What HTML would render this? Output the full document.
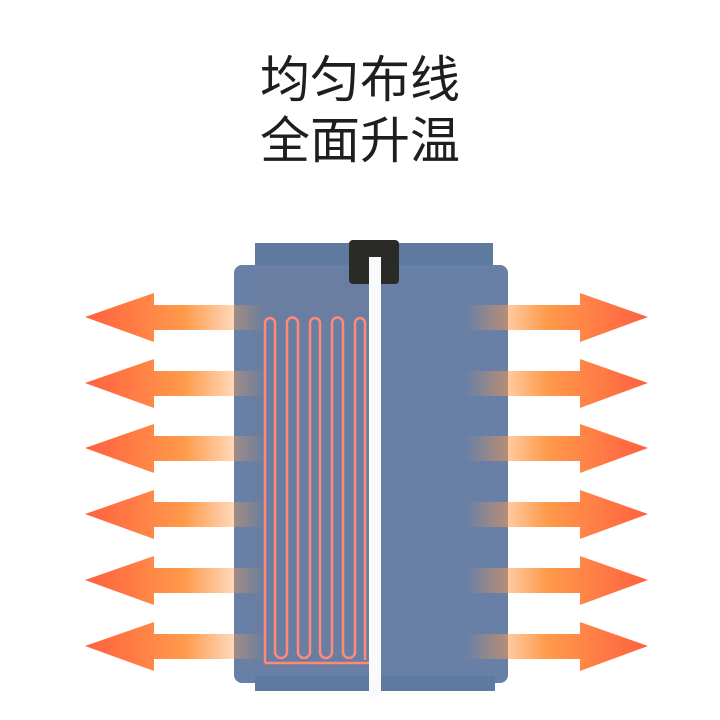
<!DOCTYPE html>
<html><head><meta charset="utf-8"><style>
html,body{margin:0;padding:0;background:#fff;width:720px;height:720px;overflow:hidden}
.t{position:absolute;left:0;width:720px;text-align:center;font-family:"Liberation Sans","Noto Sans CJK SC",sans-serif;font-size:50px;color:#1e1e1e;line-height:60px}
</style></head><body>
<div class="t" style="top:50px">均匀布线</div>
<div class="t" style="top:111px">全面升温</div>
<svg width="720" height="720" style="position:absolute;left:0;top:0">
<defs>
<linearGradient id="la" x1="85" x2="265" gradientUnits="userSpaceOnUse">
<stop offset="0" stop-color="#ff6040"/><stop offset="0.55" stop-color="#ff9a4a"/><stop offset="1" stop-color="#ff9a4a" stop-opacity="0"/></linearGradient>
<linearGradient id="ra" x1="648" x2="465" gradientUnits="userSpaceOnUse">
<stop offset="0" stop-color="#ff6040"/><stop offset="0.55" stop-color="#ff9a4a"/><stop offset="1" stop-color="#ff9a4a" stop-opacity="0"/></linearGradient>
</defs>
<rect x="255" y="243" width="238" height="40" fill="#5f7aa0"/>
<rect x="234" y="265" width="274" height="418" rx="8" fill="#6880a6"/>
<rect x="255" y="676" width="240" height="15" fill="#5f7aa0"/>
<rect x="250" y="270" width="120" height="400" fill="#6a7e9e" opacity="0.7"/>
<path d="M265,663 L265,323 A5,5 0 0 1 275,323 L275,652 A6,6 0 0 0 287,652 L287,323 A5.5,5.5 0 0 1 298,323 L298,652 A6,6 0 0 0 310,652 L310,323 A5,5 0 0 1 320,323 L320,652 A6,6 0 0 0 332,652 L332,323 A5.5,5.5 0 0 1 343,323 L343,652 A6,6 0 0 0 355,652 L355,323 A5,5 0 0 1 365,323 L365,660 M265,663 L369,663" fill="none" stroke="#ff8a7a" stroke-width="2.5"/>
<g id="arrows">
<g fill="url(#la)">
<path d="M85,317 L154,293 L154,305 L265,305 L265,330 L154,330 L154,342Z"/>
<path d="M85,383 L154,359 L154,371 L265,371 L265,396 L154,396 L154,408Z"/>
<path d="M85,448 L154,424 L154,436 L265,436 L265,461 L154,461 L154,473Z"/>
<path d="M85,514 L154,490 L154,502 L265,502 L265,527 L154,527 L154,539Z"/>
<path d="M85,580 L154,556 L154,568 L265,568 L265,593 L154,593 L154,605Z"/>
<path d="M85,646 L154,622 L154,634 L265,634 L265,659 L154,659 L154,671Z"/>
</g>
<g fill="url(#ra)">
<path d="M648,317 L580,293 L580,305 L465,305 L465,330 L580,330 L580,342Z"/>
<path d="M648,383 L580,359 L580,371 L465,371 L465,396 L580,396 L580,408Z"/>
<path d="M648,448 L580,424 L580,436 L465,436 L465,461 L580,461 L580,473Z"/>
<path d="M648,514 L580,490 L580,502 L465,502 L465,527 L580,527 L580,539Z"/>
<path d="M648,580 L580,556 L580,568 L465,568 L465,593 L580,593 L580,605Z"/>
<path d="M648,646 L580,622 L580,634 L465,634 L465,659 L580,659 L580,671Z"/>
</g>
</g>
<rect x="349" y="240" width="50" height="44" rx="4" fill="#2a2a26"/>
<rect x="369" y="257" width="12" height="440" fill="#fafafa"/>
</svg>
</body></html>
